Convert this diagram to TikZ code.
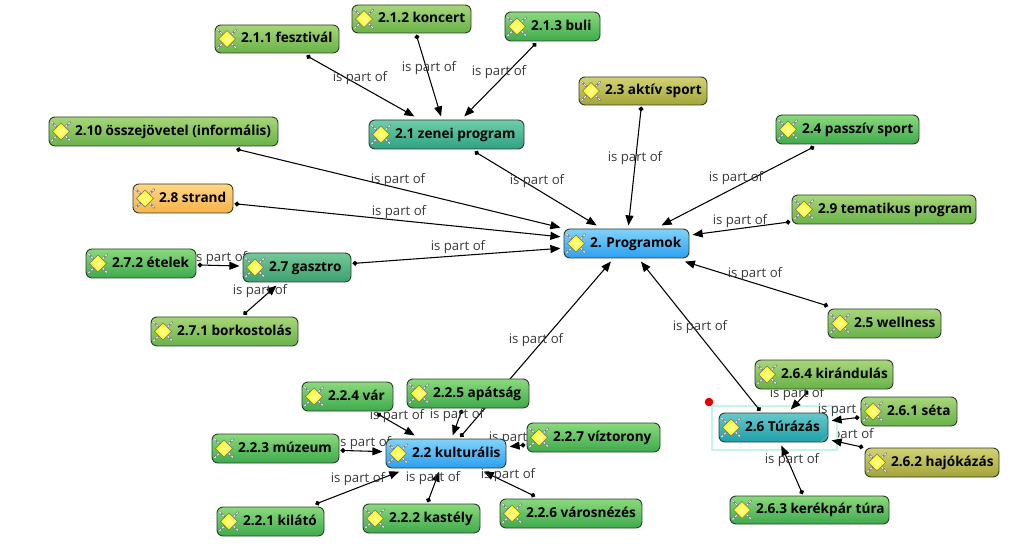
\documentclass[tikz,border=0pt]{standalone}
\usepackage{fontspec}
\setmainfont{Open Sans}
\usetikzlibrary{arrows.meta,backgrounds}

\definecolor{linkgray}{HTML}{3A3A3A}
\definecolor{frameline}{HTML}{C4F5EA}
\definecolor{topicline}{HTML}{2B3F2B}

\tikzset{
  topic/.style={draw=topicline,line width=0.7pt,rounded corners=4.5pt,outer sep=2.7pt,
    inner xsep=0pt,inner ysep=0pt,text height=7.5pt,text depth=2.2pt,
    font=\bfseries\fontsize{10.2}{11}\selectfont},
  topicgreen/.style={top color={rgb,255:red,138;green,218;blue,124},bottom color={rgb,255:red,62;green,170;blue,76}},
  topicmoss/.style={top color={rgb,255:red,168;green,214;blue,122},bottom color={rgb,255:red,104;green,178;blue,72}},
  topicolive/.style={top color={rgb,255:red,210;green,210;blue,116},bottom color={rgb,255:red,163;green,165;blue,58}},
  topicorange/.style={top color={rgb,255:red,255;green,214;blue,130},bottom color={rgb,255:red,249;green,178;blue,74}},
  topicblue/.style={top color={rgb,255:red,130;green,210;blue,250},bottom color={rgb,255:red,44;green,160;blue,240}},
  topicteal/.style={top color={rgb,255:red,112;green,205;blue,170},bottom color={rgb,255:red,46;green,162;blue,130}},
  topicsea/.style={top color={rgb,255:red,116;green,200;blue,152},bottom color={rgb,255:red,60;green,160;blue,110}},
  topiccyan/.style={top color={rgb,255:red,102;green,201;blue,204},bottom color={rgb,255:red,31;green,160;blue,168}},
  link/.style={draw=black,line width=0.8pt,shorten <=-1.5pt,
    {Circle[length=3.6pt]}-{Triangle[length=7.5pt,width=6pt]}},
  linklabel/.style={text=linkgray,inner sep=0pt,yshift=-1.5pt,font=\fontsize{9.9}{11}\selectfont},
  bulb/.pic={
    \draw[black!50,line width=1.5pt] (-9.5,-9.5) -- (9.5,9.5) (-9.5,9.5) -- (9.5,-9.5);
    \draw[white,line width=0.7pt,dash pattern=on 1.5pt off 1.5pt] (-9.5,-9.5) -- (9.5,9.5) (-9.5,9.5) -- (9.5,-9.5);
    \draw[black!55,inner color=yellow!35!white,outer color=yellow!95!orange,line width=0.4pt]
      (0,-8.5) -- (8.5,0) -- (0,8.5) -- (-8.5,0) -- cycle;
  },
}

\begin{document}
\begin{tikzpicture}[x=0.75pt,y=-0.75pt]

% main topic and its children
\foreach \nm/\xa/\ya/\xb/\yb/\col/\txt in {
  prog/564/229/689/258/topicblue/2. Programok,
  zenei/369/120/524/149/topicteal/2.1 zenei program,
  fesztival/215/25/339/53/topicmoss/2.1.1 fesztivál,
  koncert/352/5/471/33/topicmoss/2.1.2 koncert,
  buli/505/12/600/41/topicgreen/2.1.3 buli,
  aktiv/579/77/707/105/topicolive/2.3 aktív sport,
  passziv/776/115/919/144/topicgreen/2.4 passzív sport,
  wellness/828/309/941/338/topicmoss/2.5 wellness,
  tematikus/792/195/976/224/topicmoss/2.9 tematikus program,
  osszejovetel/49/117/278/146/topicmoss/2.10 összejövetel (informális),
  strand/133/184/233/213/topicorange/2.8 strand,
  gasztro/243/253/351/282/topicsea/2.7 gasztro,
  etelek/86/249/196/278/topicgreen/2.7.2 ételek,
  borkostolas/151/317/298/346/topicmoss/2.7.1 borkostolás,
  kult/386/439/506/468/topicblue/2.2 kulturális,
  kilato/217/507/324/536/topicgreen/2.2.1 kilátó,
  kastely/363/504/480/533/topicgreen/2.2.2 kastély,
  muzeum/212/434/339/463/topicgreen/2.2.3 múzeum,
  var/302/382/393/411/topicgreen/2.2.4 vár,
  apatsag/407/379/529/408/topicgreen/2.2.5 apátság,
  varosnezes/500/499/642/528/topicgreen/2.2.6 városnézés,
  viztorony/527/423/660/452/topicgreen/2.2.7 víztorony,
  turazas/719/413/828/442/topiccyan/2.6 Túrázás,
  seta/861/397/957/426/topicmoss/2.6.1 séta,
  hajokazas/865/448/999/477/topicolive/2.6.2 hajókázás,
  kerekpar/730/496/889/524/topicgreen/2.6.3 kerékpár túra,
  kirandulas/755/360/893/389/topicmoss/2.6.4 kirándulás%
} {
  \pgfmathsetmacro\boxw{(\xb-\xa)*0.75}
  \pgfmathsetmacro\boxh{(\yb-\ya)*0.75}
  \node[topic,\col,minimum height=\boxh pt] (\nm) at ({(\xa+\xb)/2},{(\ya+\yb)/2})
    {\makebox[\boxw pt][l]{\hspace{19.5pt}\txt}};
  \pic at ([xshift=11.7pt]\nm.west) {bulb};
}

% resize grip and selection mark
\draw[teal!60!white,line width=0.5pt] ([shift={(-11,-3)}]turazas.south east) -- ([shift={(-3,-11)}]turazas.south east);
\fill[red!90!black] (709,402) circle (3.2pt);
\node[inner sep=0pt] (mark) at (709,402) {};

\begin{scope}[on background layer]
  \path[fill=white,use as bounding box] (0,0) rectangle (1012,548);
  \node[linklabel] (lhajo) at (846.5,433) {is part of};
  \draw[frameline,line width=1.4pt,fill=white] (712,406) rectangle (837,450);

  \foreach \from/\to/\lx/\ly in {
    fesztival/zenei/360/76,
    koncert/zenei/429/66,
    buli/zenei/499/70,
    zenei/prog/537/179,
    osszejovetel/prog/398/178,
    strand/prog/399/210,
    gasztro/prog/458/245,
    aktiv/prog/635/156,
    passziv/prog/736/176,
    tematikus/prog/740/219,
    wellness/prog/755/272,
    turazas/prog/700/325,
    kult/prog/536/338,
    etelek/gasztro/220/256,
    borkostolas/gasztro/260/289,
    var/kult/397/414,
    apatsag/kult/457/413,
    muzeum/kult/364/441,
    viztorony/kult/516/436,
    kilato/kult/358/477,
    kastely/kult/433/476,
    varosnezes/kult/508/473,
    seta/turazas/845/408,
    kerekpar/turazas/792/458,
    kirandulas/turazas/797/392%
  } {
    \draw[link] (\from) -- (\to);
    \node[linklabel] (l\from) at (\lx,\ly) {is part of};
  }
  \draw[link] (hajokazas) -- (turazas);
\end{scope}
\end{tikzpicture}
\end{document}
